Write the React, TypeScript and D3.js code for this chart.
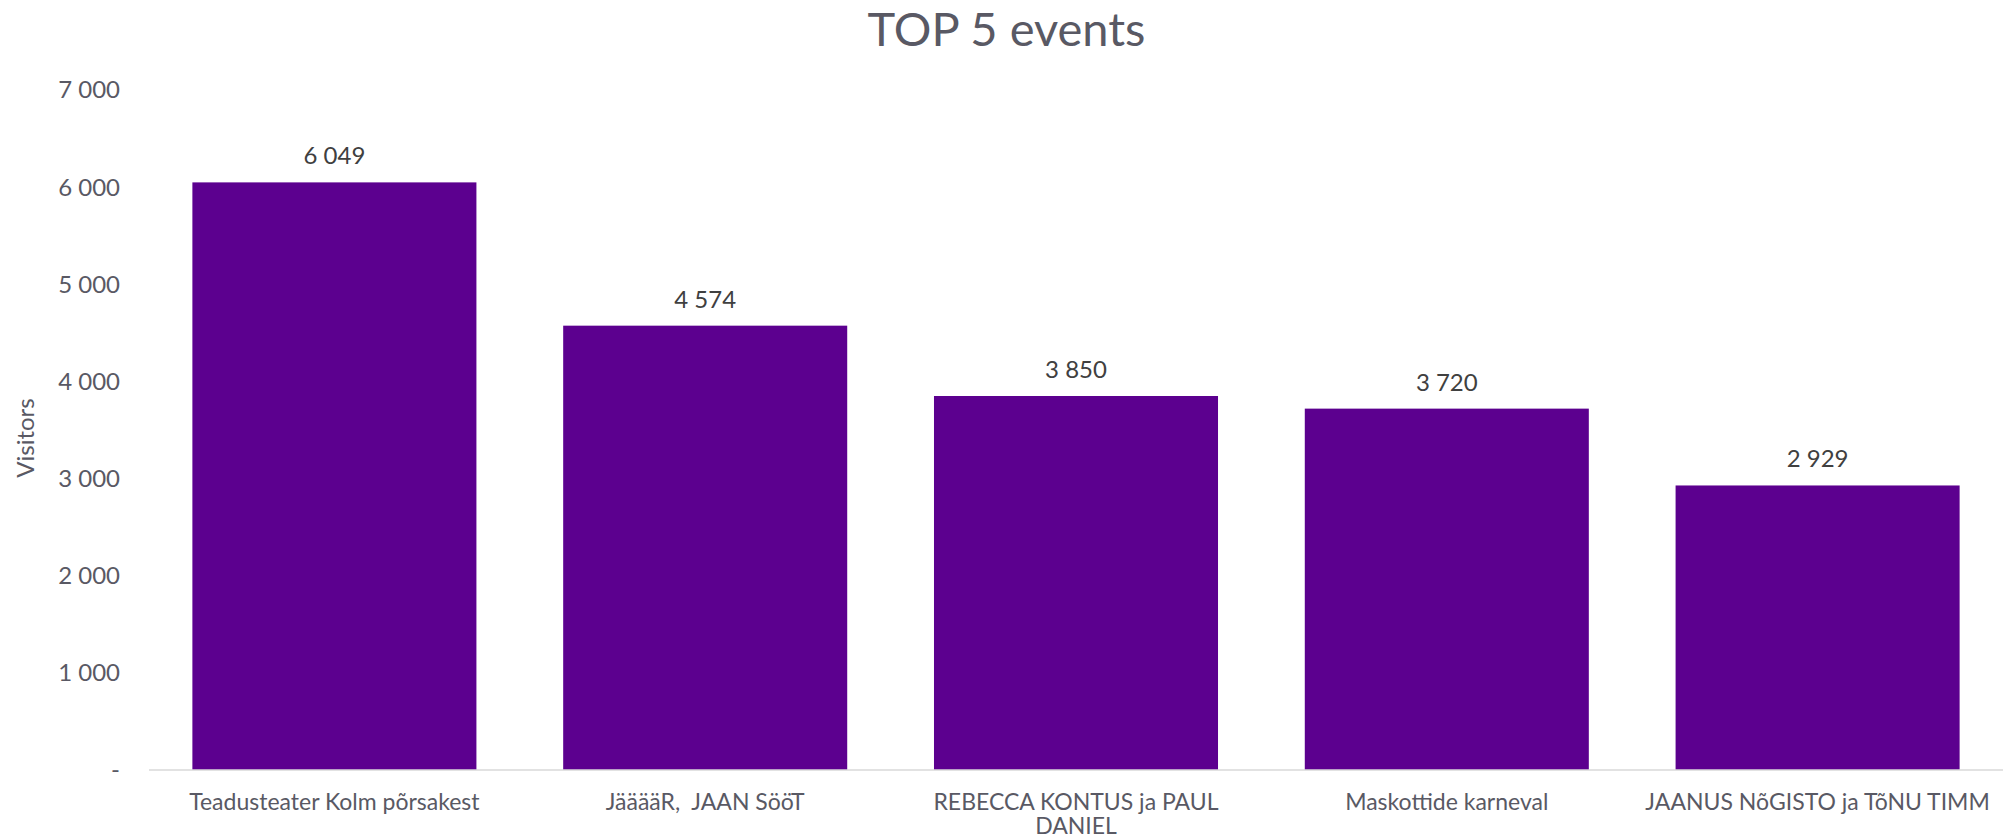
import React, { useEffect, useRef } from 'react';
import * as d3 from 'd3';

const events = [
  'Teadusteater Kolm põrsakest',
  'JääääR,  JAAN SööT',
  'REBECCA KONTUS ja PAUL DANIEL',
  'Maskottide karneval',
  'JAANUS NõGISTO ja TõNU TIMM',
];
const visitors = [6049, 4574, 3850, 3720, 2929];
const yTicks = [0, 1000, 2000, 3000, 4000, 5000, 6000, 7000];

const W = 2013;
const H = 839;
const FONT = 'Lato, "Noto Sans", sans-serif';
const TEXT = '#595964';
const BAR = '#5c008f';

// space as thousands separator, "-" for zero (Excel accounting style)
const fmt = (v: number) => (v === 0 ? '-' : d3.format(',')(v).replace(/,/g, ' '));

function wrap(sel: d3.Selection<SVGTextElement, string, SVGGElement, unknown>, width: number) {
  sel.each(function () {
    const text = d3.select(this);
    // leave it alone if it fits (keeps double spaces)
    if ((this as SVGTextElement).getComputedTextLength() <= width) return;
    const words = text.text().split(/\s+/);
    const y = +text.attr('y');
    const x = text.attr('x');
    let line: string[] = [];
    let lineNo = 0;
    text.text(null);
    let tspan = text.append('tspan').attr('x', x).attr('y', y);
    words.forEach(w => {
      line.push(w);
      tspan.text(line.join(' '));
      if ((tspan.node() as SVGTSpanElement).getComputedTextLength() > width && line.length > 1) {
        line.pop();
        tspan.text(line.join(' '));
        line = [w];
        lineNo++;
        tspan = text.append('tspan').attr('x', x).attr('y', y + lineNo * 24).text(w);
      }
    });
  });
}

export default function App() {
  const svgRef = useRef<SVGSVGElement>(null);

  useEffect(() => {
    document.body.style.margin = '0';
    if (!svgRef.current) return;
    const margin = { top: 90, right: 10, bottom: 69, left: 149 };

    const x = d3.scaleBand<string>()
      .domain(events)
      .range([margin.left, W - margin.right])
      .paddingInner(0.234)
      .paddingOuter(0.117);

    const y = d3.scaleLinear()
      .domain([0, 7000])
      .range([H - margin.bottom, margin.top]);

    const svg = d3.select(svgRef.current);
    svg.selectAll('*').remove();

    // title
    svg.append('text')
      .attr('x', W / 2)
      .attr('y', 46)
      .attr('text-anchor', 'middle')
      .style('font-size', '47px')
      .style('fill', TEXT)
      .text('TOP 5 events');

    // y axis labels (no line, no ticks)
    svg.append('g')
      .selectAll('text')
      .data(yTicks)
      .join('text')
      .attr('x', 120)
      .attr('y', d => y(d))
      .attr('dy', '0.35em')
      .attr('text-anchor', 'end')
      .style('font-size', '24px')
      .style('fill', TEXT)
      .text(d => fmt(d));

    svg.append('text')
      .attr('transform', `translate(26,${(margin.top + H - margin.bottom) / 2 + 8}) rotate(-90)`)
      .attr('text-anchor', 'middle')
      .attr('dy', '0.35em')
      .style('font-size', '24px')
      .style('fill', TEXT)
      .text('Visitors');

    // bars
    svg.append('g')
      .selectAll('rect')
      .data(visitors)
      .join('rect')
      .attr('x', (_, i) => x(events[i])!)
      .attr('y', d => y(d))
      .attr('width', x.bandwidth())
      .attr('height', d => y(0) - y(d))
      .attr('fill', BAR);

    // data labels
    svg.append('g')
      .selectAll('text')
      .data(visitors)
      .join('text')
      .attr('x', (_, i) => x(events[i])! + x.bandwidth() / 2)
      .attr('y', d => y(d) - 18)
      .attr('text-anchor', 'middle')
      .style('font-size', '24px')
      .style('fill', '#404040')
      .text(d => fmt(d));

    // baseline
    svg.append('line')
      .attr('x1', margin.left)
      .attr('x2', W - margin.right)
      .attr('y1', y(0))
      .attr('y2', y(0))
      .attr('stroke', '#d9d9d9')
      .attr('stroke-width', 1.5);

    // category labels
    svg.append('g')
      .selectAll('text')
      .data(events)
      .join('text')
      .attr('x', d => x(d)! + x.bandwidth() / 2)
      .attr('y', y(0) + 40)
      .attr('text-anchor', 'middle')
      .style('font-size', '23px')
      .style('white-space', 'pre')
      .style('fill', TEXT)
      .text(d => d)
      .call(wrap as any, x.step() - 4);
  }, []);

  return (
    <svg
      ref={svgRef}
      width={W}
      height={H}
      style={{ display: 'block', fontFamily: FONT, background: '#fff' }}
    />
  );
}
